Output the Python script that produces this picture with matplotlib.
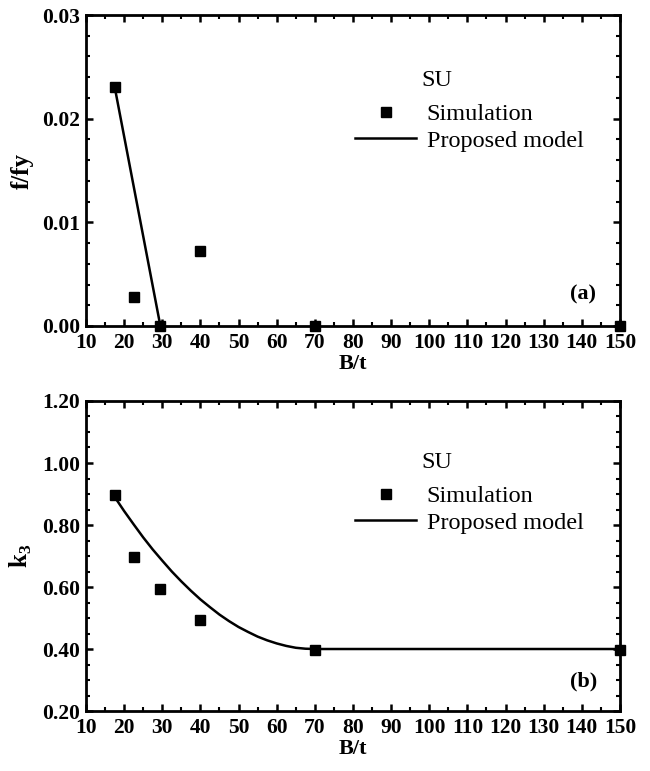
import matplotlib
matplotlib.use("Agg")
import matplotlib.pyplot as plt
from matplotlib.ticker import MultipleLocator, FixedLocator
from matplotlib.lines import Line2D

plt.rcParams['font.family'] = ['Liberation Serif', 'DejaVu Serif']
plt.rcParams['mathtext.fontset'] = 'custom'
plt.rcParams['mathtext.rm'] = 'Liberation Serif:bold'
plt.rcParams['mathtext.bf'] = 'Liberation Serif:bold'

# ---- data ----
bt_sim = [17.5, 22.5, 29.5, 40, 70, 150]
ffy_sim = [0.0231, 0.0028, 0.0, 0.0072, 0.0, 0.0]
ffy_model_x = [17.5, 29.5]
ffy_model_y = [0.0231, 0.0]

k3_sim = [0.898, 0.697, 0.595, 0.495, 0.397, 0.397]
k3_model_x = [17, 20, 22.5, 25, 27.5, 30, 32.5, 35, 37.5, 40, 42.5, 45, 47.5,
              50, 52.5, 55, 57.5, 60, 62.5, 65, 67.5, 70, 150]
k3_model_y = [0.900, 0.845, 0.802, 0.760, 0.721, 0.685, 0.650, 0.618, 0.588,
              0.560, 0.535, 0.511, 0.490, 0.471, 0.455, 0.440, 0.428, 0.418,
              0.410, 0.404, 0.401, 0.400, 0.400]

xticks = [10, 20, 30, 40, 50, 60, 70, 80, 90, 100, 110, 120, 130, 140, 150]

fig = plt.figure(figsize=(6.5, 7.71), dpi=100)
ax1 = fig.add_axes([0.1323, 0.5772, 0.8215, 0.4033])
ax2 = fig.add_axes([0.1323, 0.0778, 0.8215, 0.4021])

TICK_FS = 15.5
LEG_FS = 17.5

def style(ax):
    for s in ax.spines.values():
        s.set_linewidth(2.0)
    ax.set_xlim(10, 150)
    ax.xaxis.set_major_locator(FixedLocator(xticks))
    ax.xaxis.set_minor_locator(MultipleLocator(5))
    ax.tick_params(which='both', direction='in', top=True, right=True)
    ax.tick_params(which='major', length=5, width=1.8)
    ax.tick_params(axis='x', which='major', pad=5)
    ax.tick_params(axis='y', which='major', pad=4)
    ax.tick_params(which='minor', length=3, width=1.5)
    for lab in ax.get_xticklabels() + ax.get_yticklabels():
        lab.set_fontsize(TICK_FS)
        lab.set_fontweight('bold')

# --- panel (a) ---
ax1.plot(ffy_model_x, ffy_model_y, color='black', lw=1.8)
ax1.plot(bt_sim, ffy_sim, 's', color='black', ms=7, clip_on=False, zorder=5)
ax1.set_ylim(0, 0.03)
ax1.set_yticks([0, 0.01, 0.02, 0.03])
ax1.set_yticklabels(['0.00', '0.01', '0.02', '0.03'])
ax1.yaxis.set_minor_locator(MultipleLocator(0.002))
style(ax1)
ax1.set_xlabel('B/t', fontsize=16, fontweight='bold', labelpad=1)
ax1.set_ylabel('f/fy', fontsize=18, fontweight='bold', labelpad=6)

# --- panel (b) ---
ax2.plot(k3_model_x, k3_model_y, color='black', lw=1.8)
ax2.plot(bt_sim, k3_sim, 's', color='black', ms=7, clip_on=False, zorder=5)
ax2.set_ylim(0.2, 1.2)
ax2.set_yticks([0.2, 0.4, 0.6, 0.8, 1.0, 1.2])
ax2.set_yticklabels(['0.20', '0.40', '0.60', '0.80', '1.00', '1.20'])
ax2.yaxis.set_minor_locator(MultipleLocator(0.05))
style(ax2)
ax2.set_xlabel('B/t', fontsize=16, fontweight='bold', labelpad=1)
ax2.set_ylabel(r'k$_3$', fontsize=18, fontweight='bold', labelpad=6)

handles = [Line2D([], [], marker='s', ls='none', color='black', ms=7),
           Line2D([], [], color='black', lw=1.8)]
labels = ['Simulation', 'Proposed model']

for ax, su_y, leg_y, tag, tag_y in [(ax1, 0.791, 0.717, '(a)', 0.0997),
                                    (ax2, 0.803, 0.729, '(b)', 0.094)]:
    ax.text(0.629, su_y, 'SU', transform=ax.transAxes, fontsize=LEG_FS,
            ha='left', va='center')
    ax.legend(handles, labels, loc='upper left', bbox_to_anchor=(0.504, leg_y),
              frameon=False, fontsize=LEG_FS, handlelength=2.5,
              handletextpad=0.45, labelspacing=0.2, borderpad=0,
              borderaxespad=0)
    ax.text(0.931, tag_y, tag, transform=ax.transAxes, fontsize=16,
            fontweight='bold', ha='center', va='center')

fig.savefig('out.png', dpi=100)
